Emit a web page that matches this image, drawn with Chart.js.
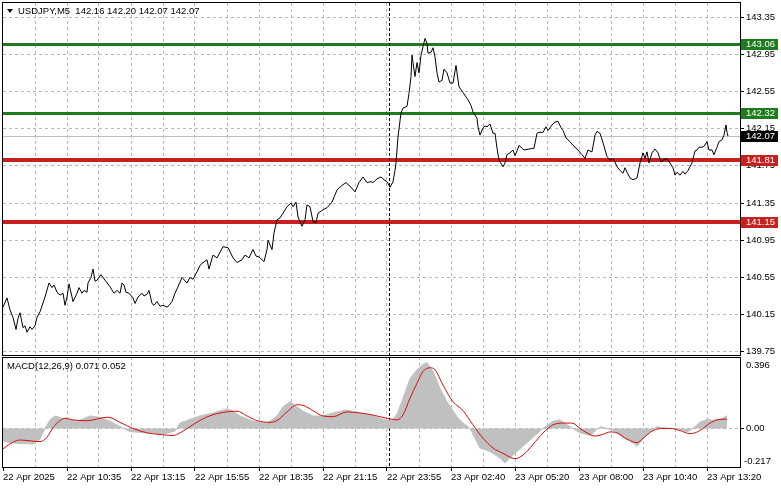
<!DOCTYPE html>
<html>
<head>
<meta charset="utf-8">
<script src="https://cdn.jsdelivr.net/npm/chart.js@4.4.0/dist/chart.umd.min.js"></script>
<style>
  html, body { margin: 0; padding: 0; background: #fff; }
  canvas { display: block; }
</style>
</head>
<body>
<canvas id="chart" width="781" height="489"></canvas>
<script>
// Данные: номер бара M5 (от начала окна) и цена закрытия
const priceBars = [
  0,2,3.5,5,6.5,7.5,8.5,10,11,12,13.5,14.5,16,17,18.5,21,23,24.5,25.5,27,
  28.5,30,31,32,33,34.5,35,37,38,39.5,40.5,42,42.5,44,45,46,47,49,51,53.5,
  55.5,57,58.5,59.5,60.5,61.5,63,65,66,67.5,69.5,70.5,72,73,74.5,75.5,77,78.5,80,82,
  83,84.5,86,87.5,89.5,92,93.5,95,97,98.5,
  100,102,103,105,107,108.5,110,112.5,115,117,119.5,121,123,125,126.5,128,130.5,132,132.5,134.5,
  135.5,137,138.5,140,142,144,145,146.5,147.5,149.5,151,152,153.5,155,156.5,157.5,159.5,162,164.5,167,
  169.5,171.5,174,176,178,180,182,184,185,187,189,190.5,192,193.5,195,196,196.5,
  197.5,199,200,202,203,204,204.5,205,206,207,208,209,210,211,212,212.5,214,215,216,217,
  218,219.5,220.5,222,223.5,225,226.5,227,228,230,231.5,232.5,234,235,237,237.5,238.5,240,241,242,
  243.5,245,246,247,248,250,251,252,253.5,255,256,257,258,259.5,260.5,263,265.5,267,268,270,
  271.5,272.5,274.5,276,277.5,279,280,281.5,283.5,285,287,289.5,291,292.5,294.5,296,297,298.5,300,302,
  303.5,305,306,307,308.5,310,311,312,313.5,315,317,318.5,320,321,322,323,324.5,326,327.5,329,
  330,332,333.5,335,336,337,338.5,340,341,342.5,344.5,346,347,348,349.5,350.5,352,353,354.5,355.5,
  357,358,359.5,360.5,361.5,362,362.5
];
const priceVals = [
  140.23,140.33,140.20,140.12,139.99,140.11,140.17,140.01,140.03,139.96,140.02,139.99,140.03,140.12,140.18,140.34,140.49,140.44,140.47,140.39,
  140.36,140.38,140.25,140.34,140.48,140.34,140.29,140.38,140.44,140.38,140.41,140.39,140.49,140.55,140.64,140.51,140.52,140.58,140.52,140.45,
  140.38,140.41,140.38,140.49,140.47,140.39,140.38,140.33,140.27,140.34,140.38,140.35,140.37,140.41,140.27,140.25,140.29,140.24,140.25,140.23,
  140.25,140.29,140.38,140.45,140.55,140.49,140.55,140.53,140.61,140.68,
  140.71,140.74,140.64,140.79,140.76,140.82,140.88,140.87,140.76,140.71,140.74,140.79,140.76,140.85,140.78,140.77,140.72,140.85,140.95,140.85,
  141.03,141.17,141.19,141.24,141.31,141.35,141.31,141.36,141.20,141.10,141.17,141.33,141.31,141.15,141.14,141.24,141.27,141.30,141.36,141.49,
  141.54,141.57,141.52,141.47,141.57,141.63,141.57,141.58,141.57,141.61,141.63,141.60,141.58,141.52,141.58,141.70,141.78,
  142.06,142.32,142.37,142.39,142.53,142.71,142.94,142.86,142.71,142.86,142.75,142.94,143.03,143.12,143.07,142.96,142.97,143.02,142.92,142.75,
  142.65,142.67,142.79,142.75,142.64,142.64,142.83,142.75,142.60,142.54,142.49,142.46,142.40,142.33,142.26,142.17,142.08,142.16,142.18,142.17,
  142.20,142.10,142.10,141.94,141.81,141.74,141.78,141.87,141.89,141.92,141.86,141.91,141.97,141.94,141.92,141.93,141.94,142.10,142.11,142.11,
  142.17,142.13,142.19,142.22,142.23,142.16,142.13,142.05,142.01,141.97,141.93,141.87,141.83,141.92,141.90,142.08,142.12,142.10,142.00,141.85,
  141.81,141.83,141.79,141.74,141.70,141.67,141.73,141.68,141.62,141.60,141.62,141.78,141.89,141.83,141.90,141.78,141.89,141.93,141.89,141.79,
  141.81,141.83,141.78,141.73,141.65,141.68,141.65,141.69,141.66,141.70,141.78,141.91,141.92,141.95,141.95,141.96,142.01,141.92,141.92,141.87,
  141.95,142.01,142.03,142.08,142.19,142.11,142.07
];

// MACD (гистограмма) и сигнальная линия
const macdBars = [0,3.5,8.5,15,18.5,21,23.5,26,30,37,43.5,48.5,53.5,58.5,63.5,72,81,86,88.5,92,
  98.5,105,112,115,118.5,125,132,137,140,143.5,147,150,155,160,165,172,178.5,185,192,194.5,
  197,200,203.5,207,210,212,215,218.5,222,227,230,233.5,238.5,243.5,248.5,251,255,260,265,270,
  275,278.5,283.5,288.5,293.5,297,299,301.5,305,310,315,317,320,323.5,327,332,337,342,345,348.5,
  352,355,358.5,362];
const macdVals = [-0.07,-0.08,-0.085,-0.087,-0.06,0,0.048,0.07,0.055,0.04,0.07,0.062,0.04,0.01,-0.018,-0.025,-0.03,-0.015,0.03,0.045,
  0.07,0.087,0.11,0.097,0.07,0.04,0.03,0.07,0.122,0.15,0.122,0.097,0.07,0.07,0.087,0.104,0.087,0.07,0.045,0.045,
  0.08,0.17,0.28,0.33,0.36,0.37,0.32,0.225,0.15,0.066,0.03,0,-0.11,-0.13,-0.167,-0.195,-0.15,-0.10,-0.05,0,
  0.04,0.048,0.01,-0.025,-0.04,-0.005,0.01,0,-0.01,-0.05,-0.08,-0.10,-0.06,-0.02,0.01,0,0,-0.02,0,0.035,
  0.05,0.045,0.052,0.071];
const signalBars = [0,3.5,8.5,13.5,18.5,22,25,28.5,31,35,42,48.5,52.5,58.5,65,72,78.5,85,88.5,93.5,
  98.5,105,112,117,122,127,133.5,137,142,147,150,155,160,165,172,178.5,185,192,197,200,
  203.5,207,210,213.5,216,220,225,230,235,240,245,250,256,260,265,270,275,280,284.5,288.5,
  292,296,300,303.5,307,312,317,320,325,330,333.5,338.5,343.5,348.5,353.5,357,362];
const signalVals = [-0.115,-0.087,-0.065,-0.07,-0.074,-0.05,0.004,0.044,0.057,0.048,0.043,0.057,0.063,0.034,0,-0.025,-0.034,-0.04,-0.025,0.01,
  0.045,0.077,0.093,0.097,0.07,0.044,0.034,0.044,0.093,0.133,0.13,0.10,0.07,0.066,0.093,0.087,0.075,0.057,0.048,0.076,
  0.17,0.254,0.32,0.341,0.33,0.244,0.15,0.10,0.02,-0.055,-0.11,-0.14,-0.17,-0.15,-0.09,-0.025,0.02,0.03,0.03,0,
  -0.025,-0.043,-0.033,-0.02,-0.025,-0.06,-0.08,-0.056,-0.012,0,0,-0.012,-0.03,-0.012,0.03,0.048,0.052];

// Подписи осей
const priceTicks = [143.35, 142.95, 142.55, 142.15, 141.75, 141.35, 140.95, 140.55, 140.15, 139.75];
const timeTicks = [0, 32, 64, 96, 128, 160, 192, 224, 256, 288, 320, 352];
const timeLabels = ['22 Apr 2025', '22 Apr 10:35', '22 Apr 13:15', '22 Apr 15:55', '22 Apr 18:35', '22 Apr 21:15',
  '22 Apr 23:55', '23 Apr 02:40', '23 Apr 05:20', '23 Apr 08:00', '23 Apr 10:40', '23 Apr 13:20'];

// Уровни и прочее
const levels = [143.06, 142.32, 141.81, 141.15];
const lastPrice = 142.07;
const ohlc = [142.16, 142.20, 142.07, 142.07];
const macdRange = [0.396, -0.217];
const macdLast = [0.071, 0.052];
const separatorBar = 193;

const FONT = "'Liberation Sans', Arial, sans-serif";
Chart.defaults.font.family = FONT;
Chart.defaults.font.size = 9.5;
Chart.defaults.color = '#000';

const levelColors = ['#1e7b1e', '#1e7b1e', '#c8201e', '#c8201e'];
const levelWidths = [3, 3, 4, 4];
const gridColor = '#b8b8b8';

const toPoints = (xs, ys) => xs.map((x, i) => ({ x: x, y: ys[i] }));

const gridBars = [];
for (let b = 0; b <= timeTicks[timeTicks.length - 1]; b += 16) gridBars.push(b);

// Фиксируем ширину шкалы и убираем запас под подписи сверху/снизу
function fitRightAxis(s) {
    s.width = 41;
    s.paddingTop = 0;
    s.paddingBottom = 0;
}

const panelPlugin = {
    id: 'panels',
    beforeDatasetsDraw(chart) {
        const { ctx, chartArea: a, scales } = chart;
        const y = scales.y, x = scales.x;
        ctx.save();
        // линия текущей цены
        const yl = Math.round(y.getPixelForValue(lastPrice)) + 0.5;
        ctx.strokeStyle = '#c0c0c0';
        ctx.lineWidth = 1;
        ctx.beginPath(); ctx.moveTo(a.left, yl); ctx.lineTo(a.right, yl); ctx.stroke();
        // горизонтальные уровни
        levels.forEach((v, i) => {
            const py = Math.round(y.getPixelForValue(v));
            ctx.fillStyle = levelColors[i];
            ctx.fillRect(a.left, py - Math.floor(levelWidths[i] / 2), a.right - a.left, levelWidths[i]);
        });
        // разделитель дней
        const sx = Math.round(x.getPixelForValue(separatorBar)) + 0.5;
        ctx.strokeStyle = '#000';
        ctx.setLineDash([3, 2]);
        ctx.beginPath(); ctx.moveTo(sx, a.top); ctx.lineTo(sx, a.bottom); ctx.stroke();
        ctx.restore();
    },
    afterDraw(chart) {
        const { ctx, chartArea: a, scales } = chart;
        const y = scales.y, y2 = scales.y2;
        ctx.save();
        // промежуток между окнами
        ctx.fillStyle = '#fff';
        ctx.fillRect(a.left, y.bottom, a.right - a.left + 1, 2);
        // рамки окон
        ctx.strokeStyle = '#000';
        ctx.lineWidth = 1;
        ctx.strokeRect(a.left - 0.5, a.top - 0.5, a.right - a.left + 1, y.bottom - a.top);
        ctx.strokeRect(a.left - 0.5, y2.top + 1.5, a.right - a.left + 1, y2.bottom - y2.top - 1);

        ctx.font = '9.5px ' + FONT;
        ctx.textBaseline = 'middle';
        ctx.textAlign = 'left';

        // метки уровней на шкале
        const boxes = levels.map((v, i) => ({ v: v, c: levelColors[i] }));
        boxes.push({ v: lastPrice, c: '#000' });
        boxes.forEach(b => {
            const py = Math.round(y.getPixelForValue(b.v));
            ctx.fillStyle = b.c;
            ctx.fillRect(a.right + 1, py - 5, 37, 11);
            ctx.fillStyle = '#fff';
            ctx.fillText(b.v.toFixed(2), a.right + 6, py + 0.5);
        });

        // крайние значения MACD
        ctx.fillStyle = '#000';
        ctx.fillText(macdRange[0].toFixed(3), a.right + 6, y2.getPixelForValue(macdRange[0]) + 7);
        ctx.fillText(macdRange[1].toFixed(3), a.right + 4, y2.getPixelForValue(macdRange[1]) - 6);

        // заголовки
        ctx.beginPath();
        ctx.moveTo(a.left + 4, a.top + 6);
        ctx.lineTo(a.left + 10, a.top + 6);
        ctx.lineTo(a.left + 7, a.top + 10);
        ctx.closePath();
        ctx.fill();
        ctx.fillText('USDJPY,M5  ' + ohlc.map(v => v.toFixed(2)).join(' '), a.left + 15, a.top + 8);
        ctx.fillText('MACD(12,26,9) ' + macdLast.map(v => v.toFixed(3)).join(' '), a.left + 4, y2.top + 10);
        ctx.restore();
    }
};

new Chart(document.getElementById('chart'), {
    type: 'line',
    data: {
        datasets: [
            {
                label: 'USDJPY',
                data: toPoints(priceBars, priceVals),
                yAxisID: 'y',
                borderColor: '#000',
                borderWidth: 1,
                pointRadius: 0,
                tension: 0,
                order: 0
            },
            {
                label: 'Signal',
                data: toPoints(signalBars, signalVals),
                yAxisID: 'y2',
                borderColor: '#d01010',
                borderWidth: 1,
                pointRadius: 0,
                cubicInterpolationMode: 'monotone',
                order: 1
            },
            {
                label: 'MACD',
                data: toPoints(macdBars, macdVals),
                yAxisID: 'y2',
                borderColor: '#c0c0c0',
                backgroundColor: '#c0c0c0',
                fill: 'origin',
                borderWidth: 1,
                pointRadius: 0,
                tension: 0,
                order: 2
            }
        ]
    },
    options: {
        responsive: false,
        animation: false,
        events: [],
        layout: { padding: { left: 3, top: 3, right: 0, bottom: 0 } },
        plugins: { legend: { display: false }, tooltip: { enabled: false } },
        scales: {
            x: {
                type: 'linear',
                min: 0,
                max: 368.5,
                afterBuildTicks: s => { s.ticks = gridBars.map(v => ({ value: v })); },
                afterFit: s => { s.height = 22; s.paddingLeft = 0; s.paddingRight = 0; },
                ticks: {
                    autoSkip: false,
                    maxRotation: 0,
                    minRotation: 0,
                    align: 'start',
                    padding: 1,
                    callback: v => {
                        const i = timeTicks.indexOf(v);
                        return i >= 0 ? timeLabels[i] : '';
                    }
                },
                grid: {
                    color: c => (c.tick && c.tick.value > 0) ? gridColor : 'rgba(0,0,0,0)',
                    tickColor: c => (c.tick && timeTicks.indexOf(c.tick.value) >= 0) ? '#000' : 'rgba(0,0,0,0)',
                    tickLength: 4,
                    tickBorderDash: []
                },
                border: { display: false, dash: [3, 3] }
            },
            y: {
                type: 'linear',
                position: 'right',
                stack: 'panels',
                stackWeight: 353,
                min: 139.705,
                max: 143.501,
                afterBuildTicks: s => { s.ticks = priceTicks.map(v => ({ value: v })); },
                afterFit: fitRightAxis,
                ticks: { padding: 2, callback: v => v.toFixed(2) },
                grid: { color: gridColor, tickColor: '#000', tickLength: 4, tickBorderDash: [] },
                border: { display: false, dash: [3, 3] }
            },
            y2: {
                type: 'linear',
                position: 'right',
                stack: 'panels',
                stackWeight: 111,
                min: macdRange[1],
                max: 0.4072,
                afterBuildTicks: s => { s.ticks = [{ value: 0 }]; },
                afterFit: fitRightAxis,
                ticks: { padding: 2, callback: v => v.toFixed(2) },
                grid: { color: gridColor, tickColor: '#000', tickLength: 4, tickBorderDash: [] },
                border: { display: false, dash: [3, 3] }
            }
        }
    },
    plugins: [panelPlugin]
});
</script>
</body>
</html>
